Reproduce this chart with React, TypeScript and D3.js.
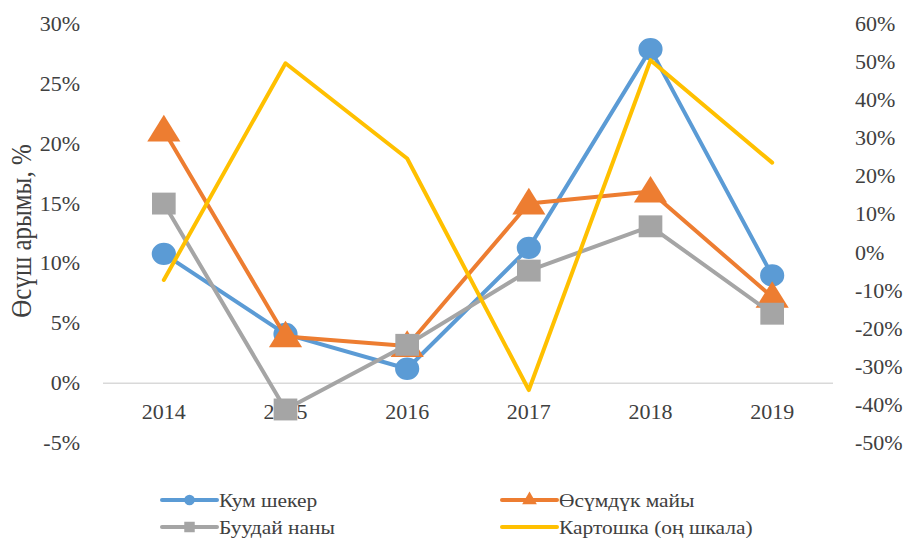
import React from "react";
import * as d3 from "d3";

const years = ["2014", "2015", "2016", "2017", "2018", "2019"];
const sugar = [0.108, 0.041, 0.012, 0.113, 0.279, 0.09];
const oil = [0.211, 0.039, 0.031, 0.15, 0.16, 0.072];
const bread = [0.15, -0.022, 0.032, 0.094, 0.131, 0.058];
const potato = [-0.072, 0.497, 0.247, -0.361, 0.505, 0.236];
const leftTicks = [-0.05, 0, 0.05, 0.1, 0.15, 0.2, 0.25, 0.3];
const rightTicks = [-0.5, -0.4, -0.3, -0.2, -0.1, 0, 0.1, 0.2, 0.3, 0.4, 0.5, 0.6];

const width = 905;
const height = 540;
const font = "Liberation Serif";
const textColor = "#404040";
const sx = 1.1; // glyphs in the original are a bit wider than tall

const x = d3.scaleBand().domain(years).range([103, 833]);
const yL = d3.scaleLinear().domain([-0.05, 0.3]).range([443, 24]);
const yR = d3.scaleLinear().domain([-0.5, 0.6]).range([443, 24]);
const cx = (d: string) => (x(d) as number) + x.bandwidth() / 2;
// plain hyphen for negatives, like the original
const pct = (v: number) => `${Math.round(v * 100)}%`;

const series = [
  { name: "Кум шекер", values: sugar, color: "#5b9bd5", marker: "circle", y: yL },
  { name: "Өсүмдүк майы", values: oil, color: "#ed7d31", marker: "triangle", y: yL },
  { name: "Буудай наны", values: bread, color: "#a5a5a5", marker: "square", y: yL },
  { name: "Картошка (оң шкала)", values: potato, color: "#ffc000", marker: "none", y: yR },
];

const symbolFor = (m: string, size: number) => {
  if (m === "circle") return d3.symbol().type(d3.symbolCircle).size(size * 0.82)();
  if (m === "triangle") return d3.symbol().type(d3.symbolTriangle).size(size * 0.85)();
  if (m === "square") return d3.symbol().type(d3.symbolSquare).size(size)();
  return null;
};

const legendPos = [
  [162, 500],
  [502, 500],
  [162, 527],
  [502, 527],
];

const Label = ({ x, y, anchor, size, children }: any) => (
  <text
    transform={`translate(${x},${y}) scale(${sx},1)`}
    dy="0.35em"
    textAnchor={anchor}
    fontFamily={font}
    fontSize={size}
    fill={textColor}
  >
    {children}
  </text>
);

const App = () => {
  return (
    <svg width={width} height={height} style={{ position: "absolute", left: 0, top: 0 }}>
      {leftTicks.map((t) => (
        <Label key={"l" + t} x={80} y={yL(t)} anchor="end" size={20}>
          {pct(t)}
        </Label>
      ))}
      {rightTicks.map((t) => (
        <Label key={"r" + t} x={855} y={yR(t)} anchor="start" size={20}>
          {pct(t)}
        </Label>
      ))}
      <text
        transform={`translate(31,231) rotate(-90) scale(1,1.2)`}
        textAnchor="middle"
        fontFamily={font}
        fontSize={25}
        fill={textColor}
      >
        Өсүш арымы,  %
      </text>
      <line x1={103} x2={833} y1={yL(0)} y2={yL(0)} stroke="#d9d9d9" strokeWidth={1.5} />
      {years.map((yr) => (
        <Label key={yr} x={cx(yr)} y={yL(0) + 29} anchor="middle" size={20}>
          {yr}
        </Label>
      ))}
      {series.map((s) => {
        const line = d3
          .line<number>()
          .x((d, i) => cx(years[i]))
          .y((d) => s.y(d));
        const sym = symbolFor(s.marker, 480);
        return (
          <g key={s.name}>
            <path d={line(s.values) || ""} fill="none" stroke={s.color} strokeWidth={4} strokeLinejoin="round" strokeLinecap="round" />
            {sym &&
              s.values.map((v, i) => (
                <path
                  key={i}
                  d={sym}
                  transform={`translate(${cx(years[i])},${s.y(v) + (s.marker === "triangle" ? 2 : 0)}) scale(1.08,1)`}
                  fill={s.color}
                />
              ))}
          </g>
        );
      })}
      {series.map((s, i) => {
        const [lx, ly] = legendPos[i];
        const sym = symbolFor(s.marker, 110);
        return (
          <g key={"lg" + s.name}>
            <line x1={lx} x2={lx + 55} y1={ly} y2={ly} stroke={s.color} strokeWidth={4} strokeLinecap="round" />
            {sym && <path d={sym} transform={`translate(${lx + 27.5},${ly})`} fill={s.color} />}
            <Label x={lx + 57} y={ly} anchor="start" size={19.5}>
              {s.name}
            </Label>
          </g>
        );
      })}
    </svg>
  );
};

export default App;
